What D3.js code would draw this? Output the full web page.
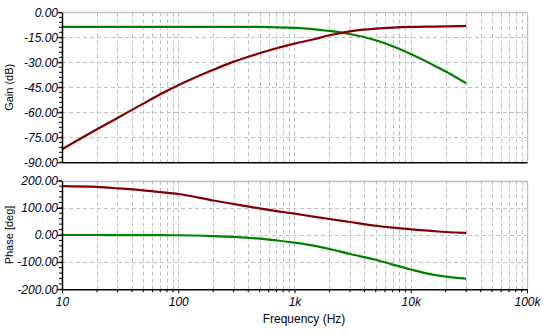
<!DOCTYPE html>
<html><head><meta charset="utf-8">
<script src="https://cdn.jsdelivr.net/npm/d3@7"></script>
<style>body{margin:0;background:#fff}svg{display:block}</style>
</head><body><svg id="c" width="546" height="336"></svg>
<script>
const freqs = [10,20,30,50,70,100,200,300,500,700,1000,1500,2000,3000,5000,7000,10000,15000,20000,30000];
const gainRed   = [-82.2,-70.2,-63.4,-54.8,-49.2,-43.8,-34.5,-29.6,-24.6,-21.6,-18.8,-16.0,-13.8,-11.4,-9.8,-9.2,-8.8,-8.6,-8.5,-8.2];
const gainGreen = [-8.8,-8.8,-8.8,-8.8,-8.8,-8.8,-8.8,-8.8,-8.8,-9.0,-9.4,-10.2,-11.2,-13.0,-16.8,-20.4,-25.0,-31.0,-35.5,-42.6];
const phaseRed   = [180,177,172,164.5,158,151,127,114,98,88,78.6,67,59,48,34,27,21,15,11,8];
const phaseGreen = [0,0,-0.3,-0.5,-0.8,-1,-4,-7,-13.5,-20,-28,-40,-51.6,-70,-91,-109,-127,-145,-153,-161];
const xTicks = [10,100,1000,10000,100000];
const xTickLabels = ["10","100","1k","10k","100k"];
const gainTicks = [0,-15,-30,-45,-60,-75,-90];
const phaseTicks = [200,100,0,-100,-200];

const svg = d3.select("#c");
const L = 62, R = 527;
const x = d3.scaleLog().domain([10,100000]).range([L,R]);
const yG = d3.scaleLinear().domain([-90,0]).range([162.3,12.3]);
const yP = d3.scaleLinear().domain([-200,200]).range([289.3,180.7]);
const red = "#800000", green = "#008000", grid = "#c0c0c0";
const minorX = [];
for (let d=10; d<100000; d*=10) for (let k=2;k<=9;k++) minorX.push(d*k);

function panel(y, ticks, minorStep, fmt, showX, title, sR, sG) {
  const [y0,y1] = y.range();
  const g = svg.append("g");
  g.selectAll(".vg").data(minorX.concat(xTicks.slice(1,4))).join("line")
    .attr("x1",d=>Math.round(x(d))+0.5).attr("x2",d=>Math.round(x(d))+0.5)
    .attr("y1",y1).attr("y2",y0).attr("stroke",grid).attr("stroke-dasharray","4,3");
  g.selectAll(".hg").data(ticks.slice(1,-1)).join("line")
    .attr("x1",L).attr("x2",R).attr("y1",d=>Math.round(y(d))+0.5).attr("y2",d=>Math.round(y(d))+0.5)
    .attr("stroke",grid).attr("stroke-dasharray","4,3");
  g.append("line").attr("x1",L).attr("x2",R+0.5).attr("y1",Math.round(y1)+0.5).attr("y2",Math.round(y1)+0.5).attr("stroke",grid).attr("stroke-width",1.3);
  g.append("line").attr("x1",R+0.5).attr("x2",R+0.5).attr("y1",y1).attr("y2",y0).attr("stroke",grid).attr("stroke-width",1.3);
  const line = d3.line().x((d,i)=>x(freqs[i])).y(d=>y(d)).curve(d3.curveMonotoneX);
  g.append("path").attr("d",line(sG)).attr("fill","none").attr("stroke",green).attr("stroke-width",2.2);
  g.append("path").attr("d",line(sR)).attr("fill","none").attr("stroke",red).attr("stroke-width",2.2);
  const [dmin,dmax] = y.domain();
  const minors = d3.range(dmin, dmax+1e-9, minorStep);
  const ay = d3.axisLeft(y).tickValues(ticks).tickFormat(fmt).tickSize(5).tickSizeOuter(0);
  const ga = g.append("g").attr("transform",`translate(${L},0)`).call(ay);
  ga.selectAll(".minor").data(minors).join("line").attr("class","minor")
    .attr("x1",-3).attr("x2",0).attr("y1",d=>y(d)).attr("y2",d=>y(d)).attr("stroke","#000");
  ga.select(".domain").attr("stroke","#000").attr("stroke-width",1.5);
  ga.selectAll("text").attr("font-family","Arial, 'Liberation Sans', sans-serif").attr("font-style","italic")
    .attr("font-size",12).attr("fill","#000022").attr("x",-4);
  const ax = d3.axisBottom(x).tickValues(xTicks).tickFormat((d,i)=>showX?xTickLabels[i]:"").tickSize(showX?4:0).tickSizeOuter(0);
  const gx = g.append("g").attr("transform",`translate(0,${y0})`).call(ax);
  gx.select(".domain").attr("stroke","#000").attr("stroke-width",1.5);
  if (showX) {
    gx.selectAll(".mn").data(minorX).join("line").attr("class","mn")
      .attr("x1",d=>x(d)).attr("x2",d=>x(d)).attr("y1",0).attr("y2",3).attr("stroke","#000");
    gx.selectAll("text").attr("font-family","Arial, 'Liberation Sans', sans-serif").attr("font-style","italic")
      .attr("font-size",12).attr("fill","#000022").attr("y",8);
  }
  svg.append("text").attr("transform",`translate(13,${(y0+y1)/2}) rotate(-90)`)
    .attr("text-anchor","middle").attr("font-family","Arial, 'Liberation Sans', sans-serif")
    .attr("font-size",11).attr("fill","#000022").text(title);
}
panel(yG, gainTicks, 3, d=>d.toFixed(2), false, "Gain (dB)", gainRed, gainGreen);
panel(yP, phaseTicks, 20, d=>d.toFixed(2), true, "Phase [deg]", phaseRed, phaseGreen);
svg.append("text").attr("x",304).attr("y",323).attr("text-anchor","middle")
  .attr("font-family","Arial, 'Liberation Sans', sans-serif").attr("font-size",12).attr("fill","#000022").text("Frequency (Hz)");
</script></body></html>
